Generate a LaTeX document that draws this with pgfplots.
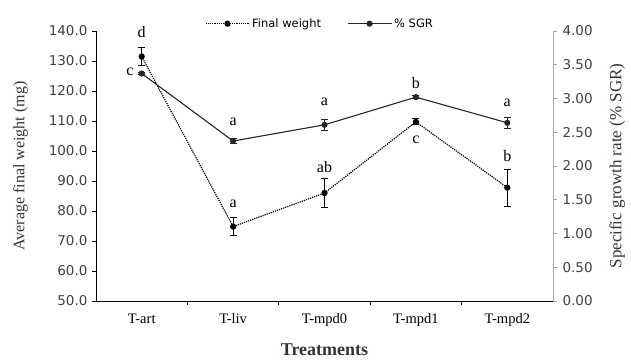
\documentclass[border=0pt]{standalone}
\usepackage{pgfplots}
\pgfplotsset{compat=1.18}
\usepackage{fontspec}
\setmainfont{Liberation Serif}
\newfontfamily\tickfont{DejaVu Sans}
\definecolor{lbl}{HTML}{3A3030}
\definecolor{tck}{HTML}{404040}
\begin{document}
\begin{tikzpicture}
\useasboundingbox (-96pt,-61pt) rectangle (535pt,301pt);
\pgfplotsset{
  common/.style={
    scale only axis, width=457pt, height=270pt,
    xmin=-0.5, xmax=4.5,
    tick align=outside,
    /pgf/number format/assume math mode=true,
  }
}
\begin{axis}[common, clip=false,
  ymin=50, ymax=140, ytick={50,60,...,140},
  axis y line*=left, axis x line*=bottom,
  axis line style={black, line width=0.9pt},
  y tick label style={font=\tickfont\fontsize{13.5}{13.5}\selectfont, text=tck, xshift=-1pt,
    /pgf/number format/.cd, fixed, fixed zerofill, precision=1},
  ytick style={black, line width=0.8pt},
  major tick length=4pt,
  xtick={0,1,2,3,4},
  xticklabels={T-art,T-liv,T-mpd0,T-mpd1,T-mpd2},
  x tick label style={font=\fontsize{14.5}{14.5}\selectfont, text=black, yshift=-5pt},
  major x tick style={draw=none},
  minor xtick={0.5,1.5,2.5,3.5},
  minor x tick style={black, line width=0.8pt},
  minor tick length=4pt,
  xlabel={Treatments},
  xlabel style={font=\fontsize{18}{18}\selectfont\bfseries, text=lbl, yshift=-10pt},
  ylabel={Average final weight (mg)},
  ylabel style={font=\fontsize{16}{16}\selectfont, text=lbl, yshift=14pt},
  legend style={at={(0.49,1.0)}, anchor=south, draw=none, fill=none, yshift=-2pt,
    font=\tickfont\fontsize{11.5}{11.5}\selectfont, /tikz/every even column/.append style={column sep=24pt}},
  legend columns=2,
  legend image post style={mark indices={2}},
  legend image code/.code={\draw[#1] plot coordinates {(0pt,0pt) (22pt,0pt) (44pt,0pt)};},
]
\addplot[black, densely dotted, line width=1.2pt, mark=*, mark size=2.5pt,
  mark options={solid},
  error bars/.cd, y dir=both, y explicit, error mark options={rotate=90, mark size=3.5pt, solid, line width=1pt}, error bar style={solid, line width=1pt}]
coordinates {
 (0,131.5) +- (0,3.0)
 (1,74.8) +- (0,3.0)
 (2,86.0) +- (0,4.7)
 (3,109.7) +- (0,1.0)
 (4,87.8) +- (0,6.2)
};
\addlegendentry{Final weight}
\addlegendimage{black!85, solid, line width=1.1pt, mark=*, mark size=2.5pt}
\addlegendentry{\% SGR}
\node[font=\fontsize{16}{16}\selectfont] at (axis cs:0,139.8) {d};
\node[font=\fontsize{16}{16}\selectfont] at (axis cs:-0.13,126.5) {c};
\node[font=\fontsize{16}{16}\selectfont] at (axis cs:1,109.7) {a};
\node[font=\fontsize{16}{16}\selectfont] at (axis cs:1,82.3) {a};
\node[font=\fontsize{16}{16}\selectfont] at (axis cs:2,116.3) {a};
\node[font=\fontsize{16}{16}\selectfont] at (axis cs:2,94.8) {ab};
\node[font=\fontsize{16}{16}\selectfont] at (axis cs:3,122.7) {b};
\node[font=\fontsize{16}{16}\selectfont] at (axis cs:3,103.7) {c};
\node[font=\fontsize{16}{16}\selectfont] at (axis cs:4,116) {a};
\node[font=\fontsize{16}{16}\selectfont] at (axis cs:4,98.2) {b};
\end{axis}
\begin{axis}[common,
  ymin=0, ymax=4, ytick={0,0.5,...,4},
  axis y line*=right, axis x line=none,
  axis line style={gray!70, line width=0.9pt},
  ytick style={gray!70, line width=0.8pt},
  major tick length=4pt,
  y tick label style={font=\tickfont\fontsize{13.5}{13.5}\selectfont, text=tck, xshift=2pt,
    /pgf/number format/.cd, fixed, fixed zerofill, precision=2},
  ylabel={Specific growth rate (\% SGR)},
  ylabel style={font=\fontsize{17}{17}\selectfont, text=lbl, yshift=-10pt},
]
\addplot[black!85, solid, line width=1.1pt, mark=*, mark size=2.5pt,
  error bars/.cd, y dir=both, y explicit, error mark options={rotate=90, mark size=3.5pt, line width=1pt}, error bar style={line width=1pt}]
coordinates {
 (0,3.37) +- (0,0.02)
 (1,2.37) +- (0,0.04)
 (2,2.61) +- (0,0.08)
 (3,3.02) +- (0,0.02)
 (4,2.64) +- (0,0.08)
};
\end{axis}
\end{tikzpicture}
\end{document}
